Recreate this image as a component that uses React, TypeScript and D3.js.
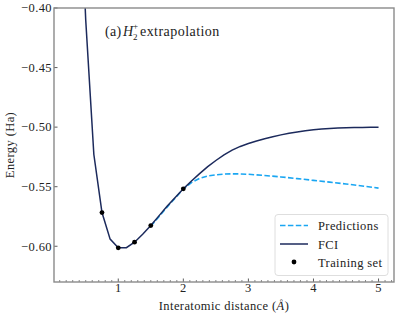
import * as d3 from "d3";

// FCI energies (Ha) on a 0.125 Å grid
const fciR = [
  0.25, 0.375, 0.5, 0.625, 0.75, 0.875, 1.0, 1.125, 1.25, 1.375, 1.5, 1.625, 1.75, 1.875, 2.0,
  2.125, 2.25, 2.375, 2.5, 2.625, 2.75, 2.875, 3.0, 3.125, 3.25, 3.375, 3.5, 3.625, 3.75, 3.875,
  4.0, 4.125, 4.25, 4.375, 4.5, 4.625, 4.75, 4.875, 5.0,
];
const fciE = [
  0.3, -0.25, -0.41, -0.523, -0.5717, -0.594, -0.6013, -0.6012, -0.5966, -0.59, -0.5826, -0.5745,
  -0.5665, -0.559, -0.5518, -0.5452, -0.539, -0.5332, -0.528, -0.5233, -0.5193, -0.5162,
  -0.5138, -0.5116, -0.5097, -0.508, -0.5065, -0.5052, -0.504, -0.503, -0.5022, -0.5016,
  -0.5011, -0.5008, -0.5006, -0.5004, -0.5003, -0.5002, -0.5002,
];

const predR = [
  1.5, 1.625, 1.75, 1.875, 2.0, 2.125, 2.25, 2.375, 2.5, 2.625, 2.75, 2.875, 3.0, 3.25, 3.5,
  3.75, 4.0, 4.25, 4.5, 4.75, 5.0,
];
const predE = [
  -0.5832, -0.5752, -0.5672, -0.5595, -0.552, -0.5465, -0.543, -0.541, -0.54, -0.5394, -0.5392,
  -0.5393, -0.5396, -0.5406, -0.5418, -0.5432, -0.5447, -0.5462, -0.5477, -0.5494, -0.5512,
];

const trainR = [0.75, 1.0, 1.25, 1.5, 2.0];
const trainE = [-0.5717, -0.6013, -0.5966, -0.5826, -0.5518];

const xTicks = [1, 2, 3, 4, 5];
const yTicks = [-0.4, -0.45, -0.5, -0.55, -0.6];

const W = 399;
const H = 318;
const m = { left: 54, right: 394, top: 8, bottom: 282 };
const font = "'Liberation Serif', serif";
const navy = "#1c2a5c";
const sky = "#1aa6f2";
const spine = "#8a8a8a";

export default function App() {
  const x = d3.scaleLinear().domain([0.0125, 5.2375]).range([m.left, m.right]);
  const y = d3.scaleLinear().domain([-0.63, -0.4]).range([m.bottom, m.top]);

  const line = d3
    .line<[number, number]>()
    .x((d) => x(d[0]))
    .y((d) => y(d[1]));

  const fciPts = fciR.map((r, i) => [r, fciE[i]] as [number, number]);
  const predPts = predR.map((r, i) => [r, predE[i]] as [number, number]);

  const minor = d3.range(1, 53).map((i) => i / 10).filter((v) => Math.abs(v - Math.round(v)) > 1e-6);

  const txt = { fontFamily: font, fontSize: 12.5, letterSpacing: 0.4, fill: "#222" };

  return (
    <svg width={W} height={H} fontFamily={font} style={{ position: "absolute", left: 0, top: 0, background: "#fff" }}>
      <defs>
        <clipPath id="plotArea">
          <rect x={m.left} y={m.top} width={m.right - m.left} height={m.bottom - m.top} />
        </clipPath>
      </defs>

      <g clipPath="url(#plotArea)">
        <path d={line(predPts) ?? ""} fill="none" stroke={sky} strokeWidth={1.6} strokeDasharray="5.5,2.4" />
        <path d={line(fciPts) ?? ""} fill="none" stroke={navy} strokeWidth={1.5} />
        {trainR.map((r, i) => (
          <circle key={r} cx={x(r)} cy={y(trainE[i])} r={2.4} fill="#000" />
        ))}
      </g>

      {/* ticks */}
      {minor.map((v) => (
        <line key={"mn" + v} x1={x(v)} x2={x(v)} y1={m.bottom} y2={m.bottom - 2} stroke="#333" strokeWidth={0.6} />
      ))}
      {xTicks.map((v) => (
        <g key={"xt" + v}>
          <line x1={x(v)} x2={x(v)} y1={m.bottom} y2={m.bottom - 3.5} stroke="#333" strokeWidth={0.8} />
          <text x={x(v)} y={m.bottom + 10} textAnchor="middle" style={txt}>
            {v}
          </text>
        </g>
      ))}
      {yTicks.map((v) => (
        <g key={"yt" + v}>
          <line x1={m.left} x2={m.left + 3.5} y1={y(v)} y2={y(v)} stroke="#333" strokeWidth={0.8} />
          <text x={m.left - 2} y={y(v) + 4.3} textAnchor="end" style={txt}>
            {"\u2212" + Math.abs(v).toFixed(2)}
          </text>
        </g>
      ))}

      <rect
        x={m.left}
        y={m.top}
        width={m.right - m.left}
        height={m.bottom - m.top}
        fill="none"
        stroke={spine}
        strokeWidth={1.4}
      />

      {/* axis labels */}
      <text x={(m.left + m.right) / 2} y={310} textAnchor="middle" style={txt}>
        Interatomic distance (<tspan fontStyle="italic">Å</tspan>)
      </text>
      <text
        transform={`translate(14, ${(m.top + m.bottom) / 2}) rotate(-90)`}
        textAnchor="middle"
        style={txt}
      >
        Energy (Ha)
      </text>

      {/* panel title */}
      <g fontFamily={font} fill="#222">
        <text x={105} y={36} fontSize={14} letterSpacing={0.3}>
          (a)
        </text>
        <text x={123} y={36} fontSize={14} fontStyle="italic">
          H
        </text>
        <text x={133} y={40} fontSize={9}>
          2
        </text>
        <text x={133} y={29} fontSize={9}>
          +
        </text>
        <text x={140} y={36} fontSize={14} letterSpacing={0.45}>
          extrapolation
        </text>
      </g>

      {/* legend */}
      <g>
        <rect x={275} y={214.5} width={113} height={61} rx={3} fill="#fff" fillOpacity={0.85} stroke="#d6d6d6" strokeWidth={0.8} />
        <line x1={280} x2={308} y1={225.5} y2={225.5} stroke={sky} strokeWidth={1.6} strokeDasharray="5.5,2.4" />
        <text x={318} y={230} style={txt}>
          Predictions
        </text>
        <line x1={280} x2={308} y1={244} y2={244} stroke={navy} strokeWidth={1.5} />
        <text x={318} y={248.5} style={txt}>
          FCI
        </text>
        <circle cx={294} cy={262} r={2.4} fill="#000" />
        <text x={318} y={266.5} style={txt}>
          Training set
        </text>
      </g>
    </svg>
  );
}
